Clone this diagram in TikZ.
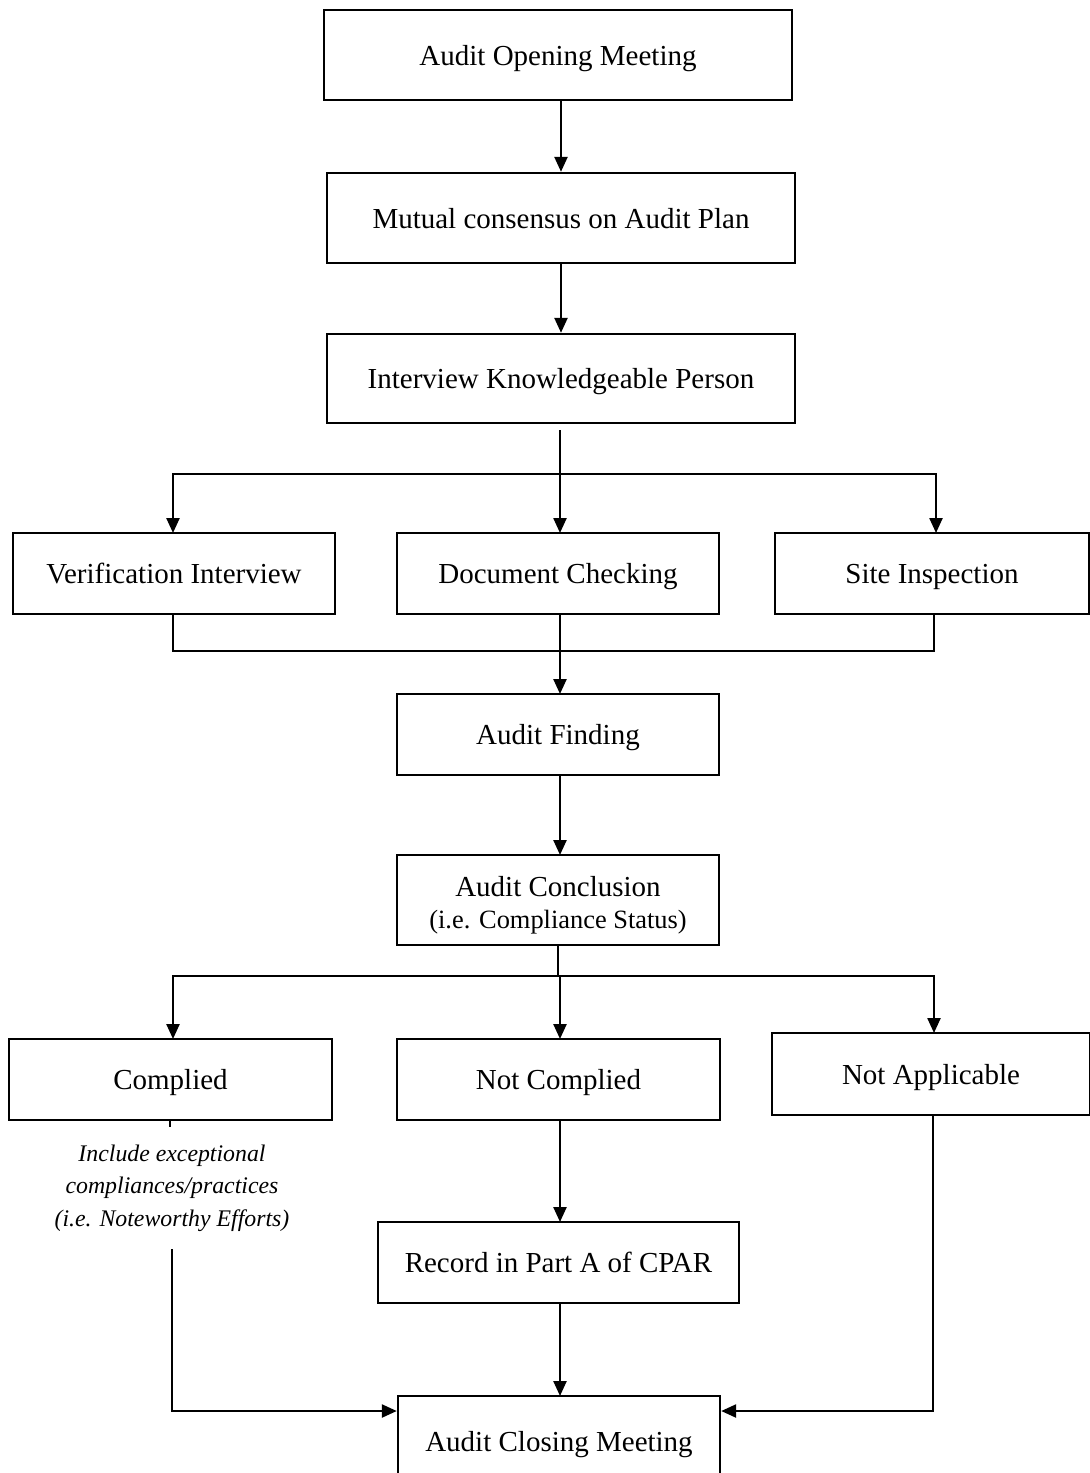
\documentclass[tikz,border=0pt]{standalone}
\usepackage{fontspec}
\setmainfont{Liberation Serif}
\usetikzlibrary{arrows.meta}
\begin{document}
\begin{tikzpicture}[x=0.5pt,y=-0.5pt,
  box/.style={draw,line width=1.2pt,minimum width=#1,inner sep=0pt,
    font=\fontsize{14.5}{17}\selectfont,align=center},
  box/.default=161pt,
  oneline/.style={text height=12pt,text depth=2pt},
  link/.style={line width=1.2pt},
  arr/.style={line width=1.2pt,-{Triangle[length=7.5pt,width=6.5pt]}}]
\clip (0,0) rectangle (1090,1473);
\fill[white] (0,0) rectangle (1090,1473);

% main column
\node[box=234pt,oneline,minimum height=45pt] (open) at (558,55) {Audit Opening Meeting};
\node[box=234pt,oneline,minimum height=45pt] (plan) at (561,218) {Mutual consensus on Audit Plan};
\node[box=234pt,oneline,minimum height=44.5pt] (interview) at (561,378.5) {Interview Knowledgeable Person};

% three verification routes
\node[box,oneline,minimum height=40.5pt] (verif) at (174,573.5) {Verification Interview};
\node[box,oneline,minimum height=40.5pt] (doc) at (558,573.5) {Document Checking};
\node[box=157pt,oneline,minimum height=40.5pt] (site) at (932,573.5) {Site Inspection};

\node[box,oneline,minimum height=40.5pt] (finding) at (558,734.5) {Audit Finding};
\node[box,minimum height=45pt] (concl) at (558,900)
  {\rule{0pt}{15pt}Audit Conclusion\\[-1pt]{\fontsize{13.2}{16}\selectfont(i.e. Compliance Status)}};

% outcomes
\node[box=161.5pt,oneline,minimum height=40.5pt] (complied) at (170.5,1079.5) {Complied};
\node[box=161.5pt,oneline,minimum height=40.5pt] (notcomp) at (558.5,1079.5) {Not Complied};
\node[box=159pt,oneline,minimum height=41pt] (notapp) at (931,1074) {Not Applicable};
\node[font=\fontsize{11.9}{16.25}\selectfont\itshape,align=center,inner sep=0pt] (note) at (172,1188)
  {Include exceptional\\compliances/practices\\(i.e. Noteworthy Efforts)};
\node[box=180.5pt,oneline,minimum height=40.5pt] (record) at (558.5,1262.5) {Record in Part A of CPAR};
\node[box=161pt,oneline,minimum height=45pt] (closing) at (559,1441) {Audit Closing Meeting};

% connectors
\draw[arr] (plan.north |- open.south) -- (plan.north);
\draw[arr] (interview.north |- plan.south) -- (interview.north);

\coordinate (split1) at (560,474);
\draw[link] (560,430) coordinate (istart) -- (split1);
\draw[arr] (split1) -- (560,533) coordinate (docin);
\draw[arr] (split1) -| (173,533) coordinate (verifin);
\draw[arr] (split1) -| (936,533) coordinate (sitein);

\draw[link] (173,614) coordinate (vout) |- (934,651) coordinate (join) -- (934,614) coordinate (sout);
\draw[arr] (560,614) coordinate (dout) -- (560,694) coordinate (fin);

\draw[arr] (560,775) coordinate (fout) -- (560,855) coordinate (cin);

\coordinate (split2) at (558,976);
\draw[link] (558,945) coordinate (cout) -- (split2);
\draw[arr] (split2) -| (173,1039) coordinate (compin);
\draw[arr] (split2) -| (560,1039) coordinate (ncin);
\draw[arr] (split2) -| (934,1033) coordinate (nain);

\draw[link] (170,1120) coordinate (compout) -- (170,1127) coordinate (stub);
\draw[arr] (172,1249) coordinate (noteout) |- ([yshift=15pt]closing.west);
\draw[arr] (560,1120) coordinate (ncout) -- (560,1222) coordinate (recin);
\draw[arr] (560,1303) coordinate (recout) -- (560,1396) coordinate (closin);
\draw[arr] (933,1115) coordinate (naout) |- ([yshift=15pt]closing.east);
\end{tikzpicture}
\end{document}
